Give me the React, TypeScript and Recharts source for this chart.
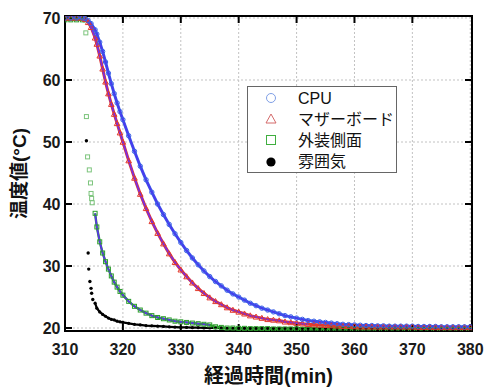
import React from 'react';
import { ComposedChart, Line, XAxis, YAxis, CartesianGrid, Legend } from 'recharts';

// elapsed time (min)
const minutes = [
  310, 311, 312, 313, 313.5, 314, 314.5, 315.2, 315.5, 316, 316.5, 317, 317.5, 318, 318.5, 319, 319.5, 320,
  321, 322, 323, 324, 325, 326, 327, 328, 329, 330,
  331, 332, 333, 334, 335, 336, 337, 338, 339, 340,
  341, 342, 343, 344, 345, 346, 347, 348, 349, 350,
  351, 352, 353, 354, 355, 356, 357, 358, 359, 360,
  361, 362, 363, 364, 365, 366, 367, 368, 369, 370,
  371, 372, 373, 374, 375, 376, 377, 378, 379, 380,
];

const cpuValues = [
  70.0, 70.0, 70.0, 70.0, 69.9, 69.6, 69.1, 68.1, 67.4, 66.1, 64.6, 62.9, 61.1, 59.4, 57.8, 56.3, 54.9, 53.6,
  51.0, 48.5, 46.1, 43.9, 41.9, 40.0, 38.3, 36.7, 35.2, 33.8,
  32.5, 31.3, 30.2, 29.2, 28.3, 27.5, 26.8, 26.1, 25.5, 25.0,
  24.5, 24.0, 23.6, 23.2, 22.9, 22.6, 22.3, 22.0, 21.8, 21.6,
  21.4, 21.2, 21.1, 21.0, 20.9, 20.8, 20.7, 20.6, 20.55, 20.5,
  20.45, 20.4, 20.4, 20.35, 20.35, 20.3, 20.3, 20.3, 20.3, 20.3,
  20.25, 20.25, 20.25, 20.25, 20.2, 20.2, 20.2, 20.2, 20.2, 20.2,
];

const boardValues = [
  70.0, 70.0, 70.0, 70.0, 69.8, 69.3, 68.5, 66.8, 65.8, 63.9, 61.8, 59.7, 57.8, 56.1, 54.5, 53.0, 51.5, 50.0,
  47.0, 44.2, 41.6, 39.3, 37.2, 35.3, 33.6, 32.0, 30.6, 29.4,
  28.3, 27.3, 26.4, 25.6, 24.9, 24.3, 23.8, 23.3, 22.9, 22.6,
  22.3, 22.0, 21.8, 21.6, 21.4, 21.3, 21.2, 21.0, 20.9, 20.8,
  20.7, 20.6, 20.55, 20.5, 20.45, 20.4, 20.35, 20.3, 20.3, 20.25,
  20.2, 20.2, 20.2, 20.2, 20.2, 20.2, 20.2, 20.2, 20.2, 20.2,
  20.15, 20.15, 20.15, 20.1, 20.1, 20.1, 20.1, 20.1, 20.1, 20.1,
];

const sideValues = [
  69.7, 69.7, 69.7, 69.7, 69.7, null, null, 38.5, 36.3, 33.9, 32.1, 30.7, 29.5, 28.4, 27.4, 26.6, 25.9, 25.3,
  24.3, 23.5, 22.9, 22.4, 22.0, 21.7, 21.5, 21.3, 21.1, 21.0,
  20.9, 20.8, 20.7, 20.6, 20.5, 20.2, 20.1, 20.0, 20.0, 19.95,
  19.95, 19.9, 19.9, 19.9, 19.9, 19.85, 19.85, 19.85, 19.85, 19.85,
  19.8, 19.8, 19.8, 19.8, 19.8, 19.8, 19.8, 19.8, 19.8, 19.8,
  19.8, 19.8, 19.8, 19.75, 19.75, 19.75, 19.75, 19.75, 19.75, 19.75,
  19.75, 19.75, 19.75, 19.75, 19.75, 19.75, 19.75, 19.75, 19.75, 19.75,
];

const airValues = [
  70.2, 70.2, 70.2, 70.2, 70.2, null, null, 24.0, 23.2, 22.6, 22.2, 21.9, 21.6, 21.4, 21.3, 21.1, 21.0, 20.9,
  20.75, 20.6, 20.5, 20.4, 20.35, 20.3, 20.25, 20.2, 20.15, 20.1,
  20.1, 20.05, 20.05, 20.0, 20.0, 20.0, 20.0, 19.95, 19.95, 19.95,
  19.95, 19.95, 19.95, 19.95, 19.95, 19.95, 19.95, 19.95, 19.95, 19.95,
  19.95, 19.95, 19.95, 19.95, 19.95, 19.95, 19.95, 19.95, 19.95, 19.95,
  19.95, 19.95, 19.95, 19.95, 19.95, 19.95, 19.95, 19.95, 19.95, 19.95,
  19.95, 19.95, 19.95, 19.95, 19.95, 19.95, 19.95, 19.95, 19.95, 19.95,
];

// isolated points recorded during the fast drop
const sideDropMinutes = [313.6, 313.7, 313.9, 314.2, 314.4, 314.5, 314.6, 314.7];
const sideDropValues = [67.6, 54.1, 47.6, 45.5, 43.4, 41.7, 40.9, 40.2];
const airDropMinutes = [313.7, 314.0, 314.1, 314.3, 314.5, 314.6, 314.8];
const airDropValues = [50.2, 32.1, 29.5, 27.5, 26.4, 25.6, 24.6];

// fitted curve ranges
const cpuFitStart = 313.5;
const boardFitRange = [313.5, 352];
const sideFitRange = [315.2, 335.6];

const xTicks = [310, 320, 330, 340, 350, 360, 370, 380];
const yTicks = [20, 30, 40, 50, 60, 70];
const seriesNames = ['CPU', 'マザーボード', '外装側面', '雰囲気'];

const toData = (ts: number[], vals: (number | null)[]) => ts.map((t, i) => ({ t, v: vals[i] }));

const cpuData = toData(minutes, cpuValues);
const boardData = toData(minutes, boardValues);
const sideData = toData(minutes, sideValues);
const airData = toData(minutes, airValues);
const sideDropData = toData(sideDropMinutes, sideDropValues);
const airDropData = toData(airDropMinutes, airDropValues);

const cpuFit = cpuData.filter((d) => d.t >= cpuFitStart);
const boardFit = boardData.filter((d) => d.t >= boardFitRange[0] && d.t <= boardFitRange[1]);
const sideFit = sideData.filter((d) => d.t >= sideFitRange[0] && d.t <= sideFitRange[1]);

const FONT = '"Liberation Sans", Arial, "Noto Sans CJK JP", sans-serif';

const C_CPU = '#3a5fe8';
const C_BOARD = '#e2382c';
const C_SIDE = '#2c9e2c';
const C_AIR = '#000000';
const C_FIT = '#5a34e8';

const xDomain: [number, number] = [310, 380.3];
const yDomain: [number, number] = [19.52, 70.32];

// chart layout
const W = 488;
const H = 387;
const MARGIN = { top: 16, right: 16, bottom: 0, left: 0 };
const Y_AXIS_W = 65;
const X_AXIS_H = 56;
const PLOT = {
  left: MARGIN.left + Y_AXIS_W,
  top: MARGIN.top,
  right: W - MARGIN.right,
  bottom: H - MARGIN.bottom - X_AXIS_H,
};
const FRAME_W = 2;
const TICK_LEN = 7;
const pxOf = (t: number) => PLOT.left + ((t - xDomain[0]) / (xDomain[1] - xDomain[0])) * (PLOT.right - PLOT.left);
const pyOf = (v: number) => PLOT.top + ((yDomain[1] - v) / (yDomain[1] - yDomain[0])) * (PLOT.bottom - PLOT.top);

const circleDot = (color: string) => (p: any) => {
  if (p.cy == null || p.cx == null) return <g key={p.key ?? p.index} />;
  return <circle key={p.key ?? p.index} cx={p.cx} cy={p.cy} r={2.2} fill="none" stroke={color} strokeWidth={1} />;
};
const triDot = (color: string) => (p: any) => {
  if (p.cy == null || p.cx == null) return <g key={p.key ?? p.index} />;
  const s = 2.8;
  return (
    <polygon key={p.key ?? p.index} points={`${p.cx},${p.cy - s} ${p.cx - s},${p.cy + s * 0.8} ${p.cx + s},${p.cy + s * 0.8}`}
      fill="none" stroke={color} strokeWidth={1} />
  );
};
const squareDot = (color: string) => (p: any) => {
  if (p.cy == null || p.cx == null) return <g key={p.key ?? p.index} />;
  return <rect key={p.key ?? p.index} x={p.cx - 2} y={p.cy - 2} width={4} height={4} fill="none" stroke={color} strokeWidth={1} />;
};
const fillDot = (color: string, r: number) => (p: any) => {
  if (p.cy == null || p.cx == null) return <g key={p.key ?? p.index} />;
  return <circle key={p.key ?? p.index} cx={p.cx} cy={p.cy} r={r} fill={color} stroke="none" />;
};

const LegendBox = () => {
  const symbols = [
    <circle cx={10} cy={10} r={4.5} fill="none" stroke="#7f9fe6" strokeWidth={1} />,
    <polygon points="10,5 5,14 15,14" fill="none" stroke="#d46a6a" strokeWidth={1} />,
    <rect x={5.5} y={5.5} width={9} height={9} fill="none" stroke="#3fae3f" strokeWidth={1} />,
    <circle cx={10} cy={10} r={4.6} fill="#000" />,
  ];
  return (
    <div style={{ width: 148, height: 85, border: '1px solid #666', background: '#fff', position: 'relative', boxSizing: 'content-box' }}>
      {seriesNames.map((n, i) => (
        <div key={n} style={{ position: 'absolute', left: 0, top: 0.5 + i * 21.2, height: 21, width: 148 }}>
          <svg width={20} height={20} style={{ position: 'absolute', left: 13, top: 0.5 }}>{symbols[i]}</svg>
          <span style={{ position: 'absolute', left: 50, top: 0, lineHeight: '21px', fontSize: 16, fontFamily: FONT, color: '#111', whiteSpace: 'nowrap' }}>{n}</span>
        </div>
      ))}
    </div>
  );
};

const XLabel = (props: any) => {
  const vb = props.viewBox;
  return (
    <text x={vb.x + vb.width / 2} y={vb.y + 45} textAnchor="middle" dominantBaseline="central"
      style={{ fontSize: 20, fontWeight: 700, fontFamily: FONT, fill: '#111' }}>経過時間(min)</text>
  );
};
const YLabel = (props: any) => {
  const vb = props.viewBox;
  const cx = vb.x + 19;
  const cy = vb.y + vb.height / 2;
  return (
    <text x={cx} y={cy} textAnchor="middle" dominantBaseline="central" transform={`rotate(-90 ${cx} ${cy})`}
      style={{ fontSize: 19, fontWeight: 700, fontFamily: FONT, fill: '#111' }}>温度値(°C)</text>
  );
};

// top and right frame of the plot area with inward ticks, inside the chart svg
const Frame = () => (
  <g className="plot-frame">
    <rect x={PLOT.left} y={PLOT.top} width={PLOT.right - PLOT.left} height={PLOT.bottom - PLOT.top}
      fill="none" stroke="#000" strokeWidth={FRAME_W} />
    {xTicks.slice(1, -1).map((t) => (
      <line key={`t${t}`} x1={pxOf(t)} y1={PLOT.top} x2={pxOf(t)} y2={PLOT.top + TICK_LEN} stroke="#000" strokeWidth={FRAME_W} />
    ))}
    {yTicks.slice(1, -1).map((v) => (
      <line key={`r${v}`} x1={PLOT.right} y1={pyOf(v)} x2={PLOT.right - TICK_LEN} y2={pyOf(v)} stroke="#000" strokeWidth={FRAME_W} />
    ))}
  </g>
);

const axisLine = { stroke: '#000', strokeWidth: FRAME_W };
const tickLine = { stroke: '#000', strokeWidth: FRAME_W };
const tickStyle = { fill: '#1a1a1a', fontSize: 16, fontWeight: 700, fontFamily: FONT };

export default function App() {
  return (
    <div style={{ width: W, height: H, overflow: 'hidden', background: '#fff', position: 'relative' }}>
      <style>{'body{margin:0;}'}</style>
      <ComposedChart width={W} height={H} margin={MARGIN}>
        <CartesianGrid stroke="#c2c2c2" strokeDasharray="2 2" />
        {/* solid frame drawn by a second grid at the plot's top and right edges */}
        <CartesianGrid stroke="#000" strokeWidth={FRAME_W} horizontalPoints={[PLOT.top]} verticalPoints={[PLOT.right]} />
        <XAxis dataKey="t" type="number" domain={xDomain} ticks={xTicks} allowDataOverflow height={X_AXIS_H}
          tickSize={-TICK_LEN} tickMargin={20} axisLine={axisLine} tickLine={tickLine} tick={tickStyle} label={XLabel} />
        <YAxis type="number" domain={yDomain} ticks={yTicks} allowDataOverflow width={Y_AXIS_W}
          tickSize={-TICK_LEN} tickMargin={11.5} axisLine={axisLine} tickLine={tickLine} tick={tickStyle} label={YLabel} />

        <Line data={airData} dataKey="v" name="雰囲気" stroke={C_AIR} strokeWidth={2.2} dot={fillDot(C_AIR, 1.6)} isAnimationActive={false} legendType="none" />
        <Line data={airDropData} dataKey="v" name="雰囲気 drop" stroke="none" dot={fillDot(C_AIR, 1.7)} isAnimationActive={false} legendType="none" />
        <Line data={sideData} dataKey="v" name="外装側面" stroke={C_SIDE} strokeWidth={2.4} dot={squareDot(C_SIDE)} isAnimationActive={false} legendType="none" />
        <Line data={sideDropData} dataKey="v" name="外装側面 drop" stroke="none" dot={squareDot('#7cc47c')} isAnimationActive={false} legendType="none" />
        <Line data={boardData} dataKey="v" name="マザーボード" stroke={C_BOARD} strokeWidth={3} dot={triDot(C_BOARD)} isAnimationActive={false} legendType="none" />
        <Line data={cpuData} dataKey="v" name="CPU" stroke={C_CPU} strokeWidth={3} dot={circleDot(C_CPU)} isAnimationActive={false} legendType="none" />

        <Line data={sideFit} dataKey="v" name="fit side" stroke={C_FIT} strokeWidth={1.8} dot={false} isAnimationActive={false} legendType="none" />
        <Line data={boardFit} dataKey="v" name="fit board" stroke="#7a2ee0" strokeWidth={1.8} dot={false} isAnimationActive={false} legendType="none" />
        <Line data={cpuFit} dataKey="v" name="fit cpu" stroke="#4a38ee" strokeWidth={1.8} dot={false} isAnimationActive={false} legendType="none" />

        <Frame />

        <Legend layout="vertical" align="center" verticalAlign="middle" content={LegendBox}
          wrapperStyle={{ left: 247, top: 86, width: 150, height: 87 }} />
      </ComposedChart>
    </div>
  );
}
